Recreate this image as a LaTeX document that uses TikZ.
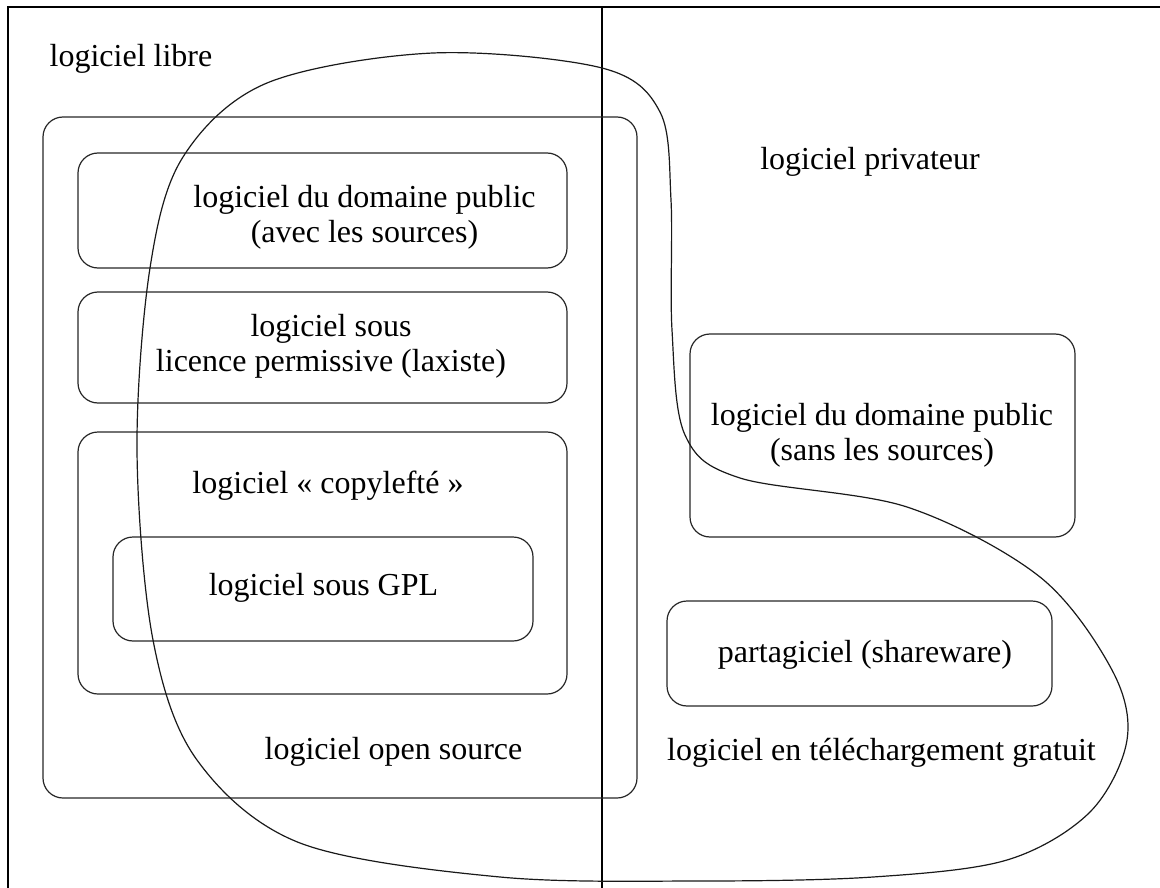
\documentclass[tikz,border=0pt]{standalone}
\usepackage{fontspec}
\setmainfont{Liberation Serif}
\begin{document}
\begin{tikzpicture}[x=1pt,y=-1pt,
  box/.style={draw=black!85, rounded corners=20pt, line width=1.2pt, inner sep=0pt},
  txt/.style={font=\fontsize{32}{35}\selectfont, align=center, inner sep=0pt, anchor=base},
  frame/.style={draw=black, line width=1.8pt},
  blob/.style={draw=black!90, line width=1.2pt}]
\useasboundingbox (0,0) rectangle (1160,888);
% frame and divider
\coordinate (fl) at (8,888);
\coordinate (ftl) at (8,7);
\coordinate (ftr) at (1160,7);
\coordinate (dt) at (602,7);
\coordinate (db) at (602,888);
\draw[frame] (fl) -- (ftl) -- (ftr);
\draw[frame] (dt) -- (db);
% boxes
\node[box, minimum width=594pt, minimum height=681pt] (os) at (340,457.5) {};
\node[box, minimum width=489pt, minimum height=115pt] (b1) at (322.5,210.5) {};
\node[box, minimum width=489pt, minimum height=111pt] (b2) at (322.5,347.5) {};
\node[box, minimum width=489pt, minimum height=262pt] (b3) at (322.5,563) {};
\node[box, minimum width=420pt, minimum height=104pt] (gpl) at (323,589) {};
\node[box, minimum width=385pt, minimum height=203pt] (sans) at (882.5,435.5) {};
\node[box, minimum width=385pt, minimum height=105pt] (share) at (859.5,653.5) {};
% texts (base anchor = baseline of last line)
\node[txt] (tlibre) at (131,67) {logiciel libre};
\node[txt] (tpriv) at (870,170) {logiciel privateur};
\node[txt] (t1) at (364.5,242) {logiciel du domaine public\\(avec les sources)};
\node[txt] (t2) at (331,371) {logiciel sous\\licence permissive (laxiste)};
\node[txt] (t3) at (328,493) {logiciel « copylefté »};
\node[txt] (tgpl) at (323.5,595) {logiciel sous GPL};
\node[txt] (tos) at (393.5,759) {logiciel open source};
\node[txt] (tsans) at (882,460) {logiciel du domaine public\\(sans les sources)};
\node[txt] (tshare) at (865,662) {partagiciel (shareware)};
\node[txt] (tfree) at (881.5,760) {logiciel en téléchargement gratuit};
% free download blob
\draw[blob] plot[smooth cycle, tension=0.55] coordinates {
 (433,53) (602,68) (660,112) (671,200) (672,330) (685,435) (740,478)
 (907,507) (1040,577) (1112,670) (1127,740) (1090,812) (1007,860)
 (873,877) (700,881) (500,877) (300,843) (197,760) (153,640)
 (137,450) (150,268) (183,157) (267,83)};
\end{tikzpicture}
\end{document}
